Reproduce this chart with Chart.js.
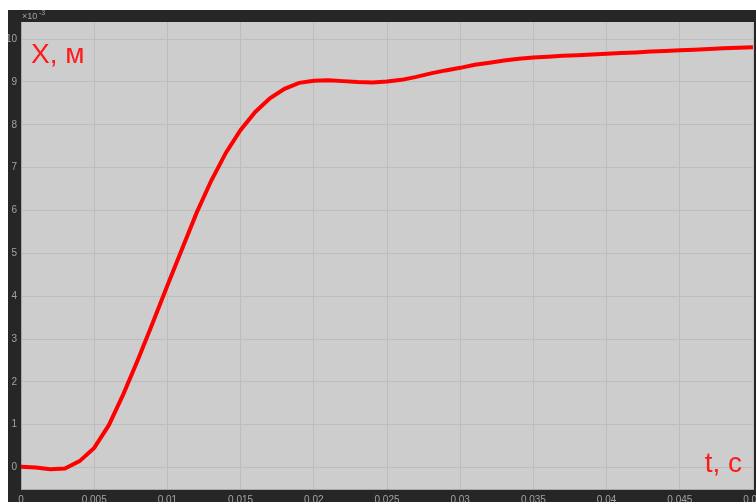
<!DOCTYPE html>
<html>
<head>
<meta charset="utf-8">
<script src="https://cdn.jsdelivr.net/npm/chart.js@4/dist/chart.umd.min.js"></script>
<style>
  html, body { margin: 0; padding: 0; background: #ffffff; }
  #wrap { width: 756px; height: 502px; position: relative; }
</style>
</head>
<body>
<div id="wrap"><canvas id="c" width="756" height="502"></canvas></div>
<script>
// Time samples, s (1 ms step)
const times = [
  0, 0.001, 0.002, 0.003, 0.004, 0.005, 0.006, 0.007, 0.008, 0.009,
  0.010, 0.011, 0.012, 0.013, 0.014, 0.015, 0.016, 0.017, 0.018, 0.019,
  0.020, 0.021, 0.022, 0.023, 0.024, 0.025, 0.026, 0.027, 0.028, 0.029,
  0.030, 0.031, 0.032, 0.033, 0.034, 0.035, 0.036, 0.037, 0.038, 0.039,
  0.040, 0.041, 0.042, 0.043, 0.044, 0.045, 0.046, 0.047, 0.048, 0.049,
  0.050
];
// Displacement X, ×10^-3 m
const displacement = [
  0.02, 0.00, -0.04, -0.02, 0.15, 0.46, 0.99, 1.72, 2.53, 3.38,
  4.25, 5.10, 5.95, 6.70, 7.35, 7.88, 8.30, 8.62, 8.84, 8.98,
  9.03, 9.04, 9.02, 9.00, 8.99, 9.01, 9.05, 9.12, 9.20, 9.27,
  9.33, 9.40, 9.45, 9.50, 9.54, 9.57, 9.59, 9.61, 9.625, 9.64,
  9.66, 9.675, 9.69, 9.71, 9.725, 9.74, 9.755, 9.77, 9.785, 9.80,
  9.81
];
// Axis tick values
const xTicks = [0, 0.005, 0.01, 0.015, 0.02, 0.025, 0.03, 0.035, 0.04, 0.045, 0.05];
const yTicks = [0, 1, 2, 3, 4, 5, 6, 7, 8, 9, 10];

const points = times.map((t, i) => ({ x: t, y: displacement[i] }));

const TICK_FONT = { family: 'Arial, "Liberation Sans", sans-serif', size: 10 };
const TICK_COLOR = '#a3a3a3';
const GRID_COLOR = '#bdbdbd';

// Dark frame, grey plot face and the red axis captions
const framePlugin = {
  id: 'frame',
  beforeDraw(chart) {
    const { ctx, chartArea: a } = chart;
    ctx.save();
    ctx.fillStyle = '#ffffff';
    ctx.fillRect(0, 0, chart.width, chart.height);
    ctx.fillStyle = '#262626';
    ctx.fillRect(8, 10, chart.width - 8, chart.height - 10);
    ctx.fillStyle = '#cdcdcd';
    ctx.fillRect(a.left, a.top, a.right - a.left, a.bottom - a.top);
    ctx.restore();
  },
  afterDraw(chart) {
    const { ctx, chartArea: a } = chart;
    ctx.save();
    // exponent marker above the y axis
    ctx.fillStyle = TICK_COLOR;
    ctx.textBaseline = 'alphabetic';
    ctx.textAlign = 'left';
    ctx.font = '9px Arial, "Liberation Sans", sans-serif';
    ctx.fillText('×10', a.left + 1, 19);
    ctx.font = '7px Arial, "Liberation Sans", sans-serif';
    ctx.fillText('-3', a.left + 18, 15);
    // axis captions
    ctx.fillStyle = '#ff1a1a';
    ctx.font = '28px Arial, "Liberation Sans", sans-serif';
    ctx.fillText('X, м', a.left + 10, 63);
    ctx.textAlign = 'right';
    ctx.fillText('t, с', a.right - 11, 472);
    ctx.restore();
  }
};

new Chart(document.getElementById('c'), {
  type: 'line',
  data: {
    datasets: [{
      data: points,
      borderColor: '#ff0000',
      borderWidth: 4,
      pointRadius: 0,
      tension: 0,
      fill: false
    }]
  },
  options: {
    responsive: false,
    animation: false,
    events: [],
    layout: { padding: { top: 22, right: 3, left: 8, bottom: 0 } },
    plugins: { legend: { display: false }, tooltip: { enabled: false } },
    scales: {
      x: {
        type: 'linear',
        min: 0,
        max: 0.05,
        afterBuildTicks: s => { s.ticks = xTicks.map(v => ({ value: v })); },
        afterFit: s => { s.height = 13; s.paddingLeft = 0; s.paddingRight = 0; },
        ticks: {
          autoSkip: false,
          maxRotation: 0,
          padding: 5,
          font: TICK_FONT,
          color: TICK_COLOR,
          callback: v => String(v)
        },
        grid: { color: GRID_COLOR, lineWidth: 1, drawTicks: false },
        border: { color: '#a8a8a8' }
      },
      y: {
        type: 'linear',
        min: -0.5,
        max: 10.4,
        afterBuildTicks: s => { s.ticks = yTicks.map(v => ({ value: v })); },
        afterFit: s => { s.width = 13; s.paddingTop = 0; s.paddingBottom = 0; },
        ticks: {
          padding: 4,
          font: TICK_FONT,
          color: TICK_COLOR,
          callback: v => String(v)
        },
        grid: { color: GRID_COLOR, lineWidth: 1, drawTicks: false },
        border: { color: '#a8a8a8' }
      }
    }
  },
  plugins: [framePlugin]
});
</script>
</body>
</html>
